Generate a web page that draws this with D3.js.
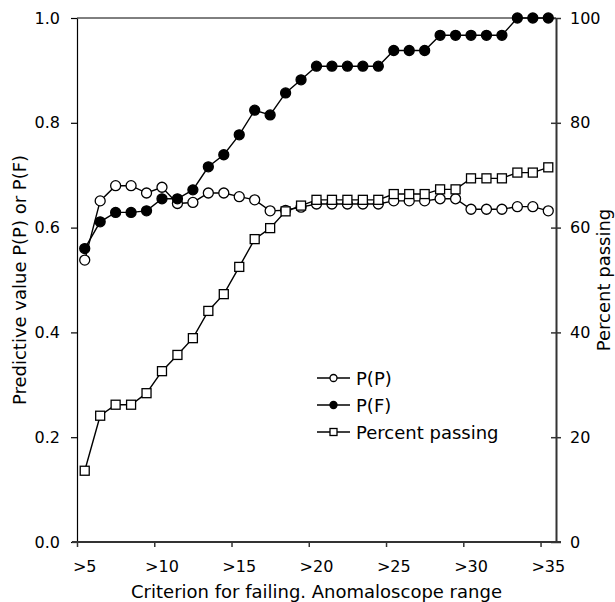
<!DOCTYPE html>
<html>
<head>
<meta charset="utf-8">
<script src="https://cdn.jsdelivr.net/npm/d3@7"></script>
<style>
  body { margin: 0; background: #fff; }
  svg text { font-family: "DejaVu Sans", Verdana, sans-serif; fill: #000; }
</style>
</head>
<body>
<script>
// criterion for failing (anomaloscope range), one point per step
var criterion = [5, 6, 7, 8, 9, 10, 11, 12, 13, 14, 15, 16, 17, 18, 19, 20,
  21, 22, 23, 24, 25, 26, 27, 28, 29, 30, 31, 32, 33, 34, 35];

var pP = [0.538, 0.651, 0.680, 0.680, 0.666, 0.677, 0.646, 0.648, 0.666, 0.666,
  0.659, 0.653, 0.632, 0.633, 0.639, 0.645, 0.645, 0.645, 0.645, 0.645,
  0.651, 0.651, 0.651, 0.655, 0.655, 0.635, 0.635, 0.635, 0.640, 0.640, 0.632];

var pF = [0.560, 0.611, 0.629, 0.629, 0.632, 0.655, 0.655, 0.672, 0.716, 0.739,
  0.777, 0.824, 0.815, 0.857, 0.882, 0.908, 0.908, 0.908, 0.908, 0.908,
  0.938, 0.938, 0.938, 0.967, 0.967, 0.967, 0.967, 0.967, 1.0, 1.0, 1.0];

var percentPassing = [13.6, 24.1, 26.2, 26.2, 28.4, 32.6, 35.7, 38.9, 44.1, 47.3,
  52.5, 57.8, 59.9, 63.1, 64.2, 65.3, 65.3, 65.3, 65.3, 65.3,
  66.4, 66.4, 66.4, 67.3, 67.3, 69.4, 69.4, 69.4, 70.5, 70.5, 71.5];

var xTicks = [5, 10, 15, 20, 25, 30, 35];
var xTickLabels = [">5", ">10", ">15", ">20", ">25", ">30", ">35"];
var leftTicks = [0, 0.2, 0.4, 0.6, 0.8, 1.0];
var rightTicks = [0, 20, 40, 60, 80, 100];

var svgWidth = 615;
var svgHeight = 602;
var plot = {left: 77, right: 556, top: 18, bottom: 542};

var svg = d3.select("body").append("svg")
  .attr("width", svgWidth)
  .attr("height", svgHeight);

var x = d3.scaleLinear().domain([5, 36]).range([plot.left, plot.right]);
var yL = d3.scaleLinear().domain([0, 1]).range([plot.bottom, plot.top]);
var yR = d3.scaleLinear().domain([0, 100]).range([plot.bottom, plot.top]);

// points sit in the middle of each criterion step
var px = function(c) { return x(c + 0.5); };

// top frame line
svg.append("line")
  .attr("x1", plot.left).attr("x2", plot.right)
  .attr("y1", plot.top).attr("y2", plot.top)
  .attr("stroke", "#000").attr("stroke-width", 1);

// left axis
var leftAxis = d3.axisLeft(yL).tickValues(leftTicks).tickSize(6).tickPadding(11)
  .tickFormat(d3.format(".1f")).tickSizeOuter(0);
var gl = svg.append("g").attr("transform", "translate(" + plot.left + ",0)").call(leftAxis);
gl.select(".domain").attr("stroke", "#000").attr("stroke-width", 1.2);
gl.selectAll(".tick line").attr("stroke", "#000").attr("stroke-width", 1.2);
gl.selectAll(".tick text").style("font-size", "16px");

// right axis, ticks cross the line
var rightAxis = d3.axisRight(yR).tickValues(rightTicks).tickSize(5).tickPadding(9).tickSizeOuter(0);
var gr = svg.append("g").attr("transform", "translate(" + plot.right + ",0)").call(rightAxis);
gr.select(".domain").attr("stroke", "#333").attr("stroke-width", 2);
gr.selectAll(".tick line").attr("x1", -5).attr("stroke", "#333").attr("stroke-width", 1.5);
gr.selectAll(".tick text").style("font-size", "16px");

// bottom axis
var bottomAxis = d3.axisBottom(x).tickValues(xTicks).tickSize(5).tickFormat("").tickSizeOuter(0);
var gb = svg.append("g").attr("transform", "translate(0," + plot.bottom + ")").call(bottomAxis);
gb.select(".domain").remove();
gb.selectAll(".tick line").attr("stroke", "#333").attr("stroke-width", 1.5);
gb.append("line")
  .attr("x1", plot.left - 5).attr("x2", plot.right + 5)
  .attr("stroke", "#333").attr("stroke-width", 2);

svg.append("g").selectAll("text")
  .data(xTicks)
  .enter()
  .append("text")
  .attr("x", function(d) { return px(d); })
  .attr("y", 572)
  .attr("text-anchor", "middle")
  .style("font-size", "16px")
  .text(function(d, i) { return xTickLabels[i]; });

// axis titles
svg.append("text")
  .attr("x", (plot.left + plot.right) / 2)
  .attr("y", 598)
  .attr("text-anchor", "middle")
  .style("font-size", "18px")
  .text("Criterion for failing. Anomaloscope range");

svg.append("text")
  .attr("transform", "translate(26," + (plot.top + plot.bottom) / 2 + ") rotate(-90)")
  .attr("text-anchor", "middle")
  .style("font-size", "18px")
  .text("Predictive value P(P) or P(F)");

svg.append("text")
  .attr("transform", "translate(610," + (plot.top + plot.bottom) / 2 + ") rotate(-90)")
  .attr("text-anchor", "middle")
  .style("font-size", "18px")
  .text("Percent passing");

// series
var series = [
  {name: "P(P)", values: pP, scale: yL, marker: "circle", fill: "#fff"},
  {name: "P(F)", values: pF, scale: yL, marker: "circle", fill: "#000"},
  {name: "Percent passing", values: percentPassing, scale: yR, marker: "square", fill: "#fff"}
];

function drawMarker(g, kind, fill, cx, cy, size) {
  if (kind === "circle") {
    g.append("circle")
      .attr("cx", cx).attr("cy", cy).attr("r", size / 2)
      .attr("fill", fill).attr("stroke", "#000").attr("stroke-width", 1.3);
  } else {
    g.append("rect")
      .attr("x", cx - size / 2).attr("y", cy - size / 2)
      .attr("width", size).attr("height", size)
      .attr("fill", fill).attr("stroke", "#000").attr("stroke-width", 1.3);
  }
}

series.forEach(function(s) {
  var g = svg.append("g");
  var line = d3.line()
    .x(function(d, i) { return px(criterion[i]); })
    .y(function(d) { return s.scale(d); });
  g.append("path")
    .attr("d", line(s.values))
    .attr("fill", "none")
    .attr("stroke", "#000")
    .attr("stroke-width", 1.4);
  s.values.forEach(function(v, i) {
    drawMarker(g, s.marker, s.fill, px(criterion[i]), s.scale(v), s.marker === "circle" ? 10 : 9);
  });
});

// legend
var legend = svg.append("g").attr("transform", "translate(317,378)");
series.forEach(function(s, i) {
  var row = legend.append("g").attr("transform", "translate(0," + (i * 27) + ")");
  row.append("line")
    .attr("x1", 0).attr("x2", 33)
    .attr("stroke", "#000").attr("stroke-width", 1.3);
  drawMarker(row, s.marker, s.fill, 16.5, 0, 7);
  row.append("text")
    .attr("x", 39)
    .attr("y", 6.5)
    .style("font-size", "18px")
    .text(s.name);
});
</script>
</body>
</html>
